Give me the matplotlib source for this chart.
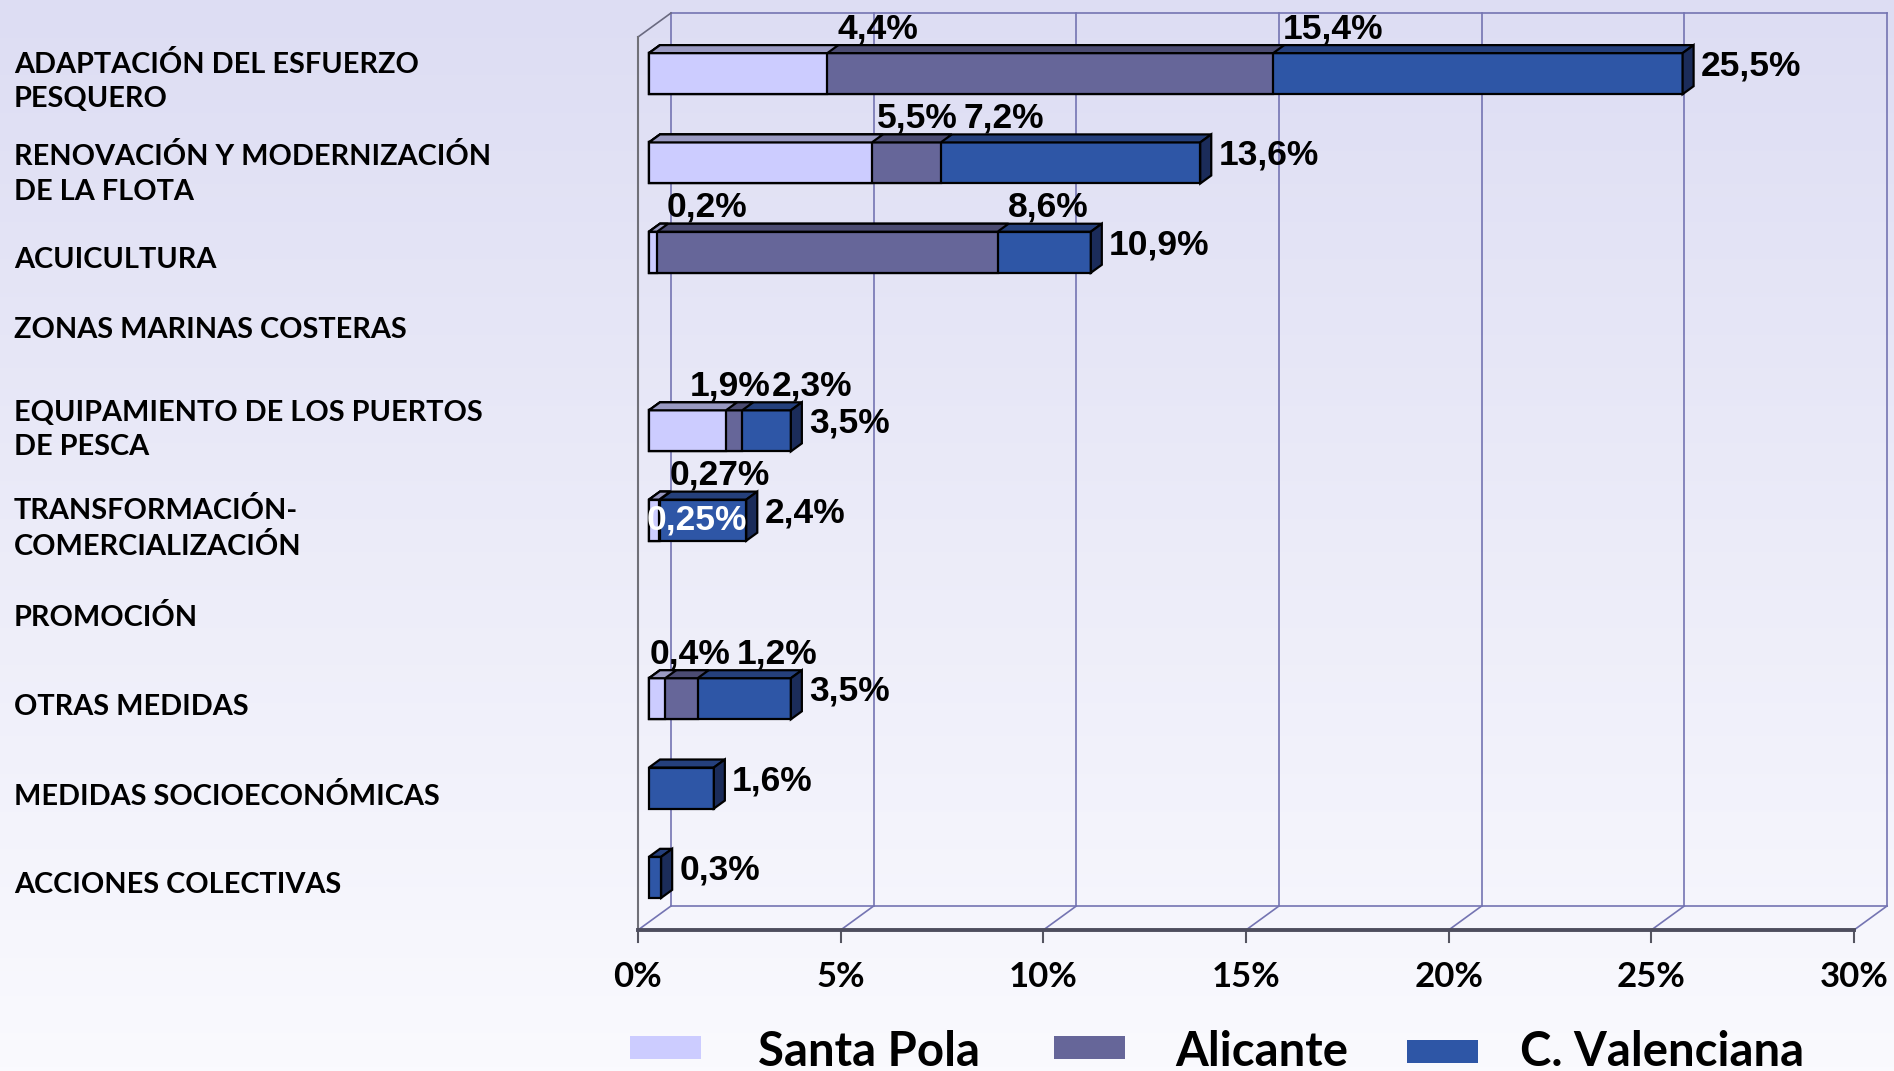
import matplotlib.pyplot as plt
import numpy as np
from matplotlib import transforms
from matplotlib.patches import Polygon, Rectangle

# datos (% del total)
categorias = [
    "ADAPTACIÓN DEL ESFUERZO\nPESQUERO",
    "RENOVACIÓN Y MODERNIZACIÓN\nDE LA FLOTA",
    "ACUICULTURA",
    "ZONAS MARINAS COSTERAS",
    "EQUIPAMIENTO DE LOS PUERTOS\nDE PESCA",
    "TRANSFORMACIÓN-\nCOMERCIALIZACIÓN",
    "PROMOCIÓN",
    "OTRAS MEDIDAS",
    "MEDIDAS SOCIOECONÓMICAS",
    "ACCIONES COLECTIVAS",
]
santa_pola = [4.4, 5.5, 0.2, None, 1.9, 0.25, None, 0.4, None, None]
alicante = [15.4, 7.2, 8.6, None, 2.3, 0.27, None, 1.2, None, None]
c_valenciana = [25.5, 13.6, 10.9, None, 3.5, 2.4, None, 3.5, 1.6, 0.3]
series_nombres = ["Santa Pola", "Alicante", "C. Valenciana"]
xticks = [0, 5, 10, 15, 20, 25, 30]

W, H = 1894, 1071
fig = plt.figure(figsize=(W / 100, H / 100), dpi=100)

# fondo degradado
bg = fig.add_axes([0, 0, 1, 1], zorder=-10)
top = np.array([221, 221, 243]) / 255
bot = np.array([250, 250, 254]) / 255
t = np.linspace(0, 1, 256)[:, None]
grad = top[None, :] * (1 - t) + bot[None, :] * t
bg.imshow(grad[:, None, :], aspect="auto", extent=[0, 1, 0, 1])
bg.axis("off")

# plano frontal del grafico
x0px, x1px, y0px, y1px = 638, 1854, 37, 930
ax = fig.add_axes([x0px / W, 1 - y1px / H, (x1px - x0px) / W, (y1px - y0px) / H])
ax.set_xlim(0, 30)
ax.set_ylim(10, 0)
ax.axis("off")
ax.patch.set_alpha(0)

px_x = (x1px - x0px) / 30
px_y = (y1px - y0px) / 10
DX = 33 / px_x
DY = -24 / px_y
d0, d1 = 1 / 3, 2 / 3
half = 0.23

grid_c = "#7474b2"
# pared del fondo
for v in xticks:
    ax.plot([v + DX, v + DX], [DY, 10 + DY], color=grid_c, lw=1.2, clip_on=False, zorder=1)
    ax.plot([v, v + DX], [10, 10 + DY], color=grid_c, lw=1.2, clip_on=False, zorder=1)
    ax.plot([v, v], [10, 10 + 12 / px_y], color="#555560", lw=1.5, clip_on=False, zorder=1)
ax.plot([DX, 30 + DX], [DY, DY], color=grid_c, lw=1.2, clip_on=False, zorder=1)
ax.plot([DX, 30 + DX], [10 + DY, 10 + DY], color=grid_c, lw=1.2, clip_on=False, zorder=1)
ax.plot([0, DX], [0, DY], color="#6a6a80", lw=1.2, clip_on=False, zorder=1)
ax.plot([0, 0], [0, 10], color="#707078", lw=1.5, clip_on=False, zorder=1)
ax.plot([0, 30], [10, 10], color="#4e4e5e", lw=2.8, clip_on=False, zorder=2)

colores = {
    "Santa Pola": ("#ccccff", "#9a9ac2", "#8888aa"),
    "Alicante": ("#666699", "#4c4c72", "#3c3c5c"),
    "C. Valenciana": ("#2e56a6", "#25407c", "#1b2c5a"),
}


def caja(v, c, nombre, z, lado):
    front, topc, side = colores[nombre]
    xa, xb = d0 * DX, v + d0 * DX
    ya, yb = c - half + d0 * DY, c + half + d0 * DY
    kw = dict(edgecolor="black", lw=1.6, joinstyle="miter", clip_on=False, zorder=z)
    ax.add_patch(Polygon([(xa, ya), (xb, ya), (xb, yb), (xa, yb)], facecolor=front, **kw))
    ax.add_patch(Polygon([(xa, ya), (xb, ya), (xb + d0 * DX, ya + d0 * DY),
                          (xa + d0 * DX, ya + d0 * DY)], facecolor=topc, **kw))
    if lado:
        ax.add_patch(Polygon([(xb, ya), (xb + d0 * DX, ya + d0 * DY),
                              (xb + d0 * DX, yb + d0 * DY), (xb, yb)], facecolor=side, **kw))


def fmt(v):
    return ("%g" % v).replace(".", ",") + "%"


valor_font = dict(family="Liberation Sans", weight="bold", fontsize=25.5)
# ajustes horizontales (px) de etiquetas que se solapan
ajuste = {(1, 0): -5, (1, 1): 13, (4, 0): -46, (4, 1): 20, (7, 0): -26, (7, 1): 29}

datos = [santa_pola, alicante, c_valenciana]
for i in range(len(categorias)):
    c = i + 0.5
    for k in (2, 1, 0):
        v = datos[k][i]
        if v is None:
            continue
        caja(v, c, series_nombres[k], 3 + (2 - k), lado=(k == 2))
        if k == 2:
            ax.annotate(fmt(v), xy=(v + d1 * DX, c + d0 * DY), xytext=(7, -2),
                        textcoords="offset pixels", ha="left", va="baseline",
                        annotation_clip=False, zorder=10, **valor_font)
        elif i == 5 and k == 0:
            ax.annotate(fmt(v), xy=(d0 * DX, c + d0 * DY), xytext=(-2, -9),
                        textcoords="offset pixels", ha="left", va="baseline",
                        color="white", annotation_clip=False, zorder=10, **valor_font)
        else:
            ax.annotate(fmt(v), xy=(v + d0 * DX, c - half + d1 * DY),
                        xytext=(10 + ajuste.get((i, k), 0), 7),
                        textcoords="offset pixels", ha="left", va="baseline",
                        annotation_clip=False, zorder=10, **valor_font)

# etiquetas de categorias
tr = transforms.blended_transform_factory(fig.transFigure, ax.transData)
subir = {1: -3, 3: 20, 4: 9}  # px
for i, cat in enumerate(categorias):
    ax.annotate(cat, xy=(14 / W, i + 0.5), xycoords=tr,
                xytext=(0, subir.get(i, 0)), textcoords="offset pixels",
                ha="left", va="center", family="Lato", weight="bold",
                fontsize=20.8, linespacing=1.4, annotation_clip=False)

# eje x
for v in xticks:
    ax.annotate(f"{v}%", xy=(v, 10), xytext=(0, -57), textcoords="offset pixels",
                ha="center", va="baseline", family="Lato", weight="bold",
                fontsize=25, annotation_clip=False)

# leyenda
leyenda = [(630, 1036, 758), (1054, 1036, 1175), (1407, 1040, 1520)]
for nombre, (sx, sy, tx) in zip(series_nombres, leyenda):
    fig.patches.append(Rectangle((sx / W, 1 - (sy + 23) / H), 71 / W, 23 / H,
                                 transform=fig.transFigure, facecolor=colores[nombre][0],
                                 edgecolor="none"))
    fig.text(tx / W, 1 - 1066 / H, nombre, ha="left", va="baseline",
             family="Lato", weight="bold", fontsize=34)

fig.savefig("out.png", dpi=100)
